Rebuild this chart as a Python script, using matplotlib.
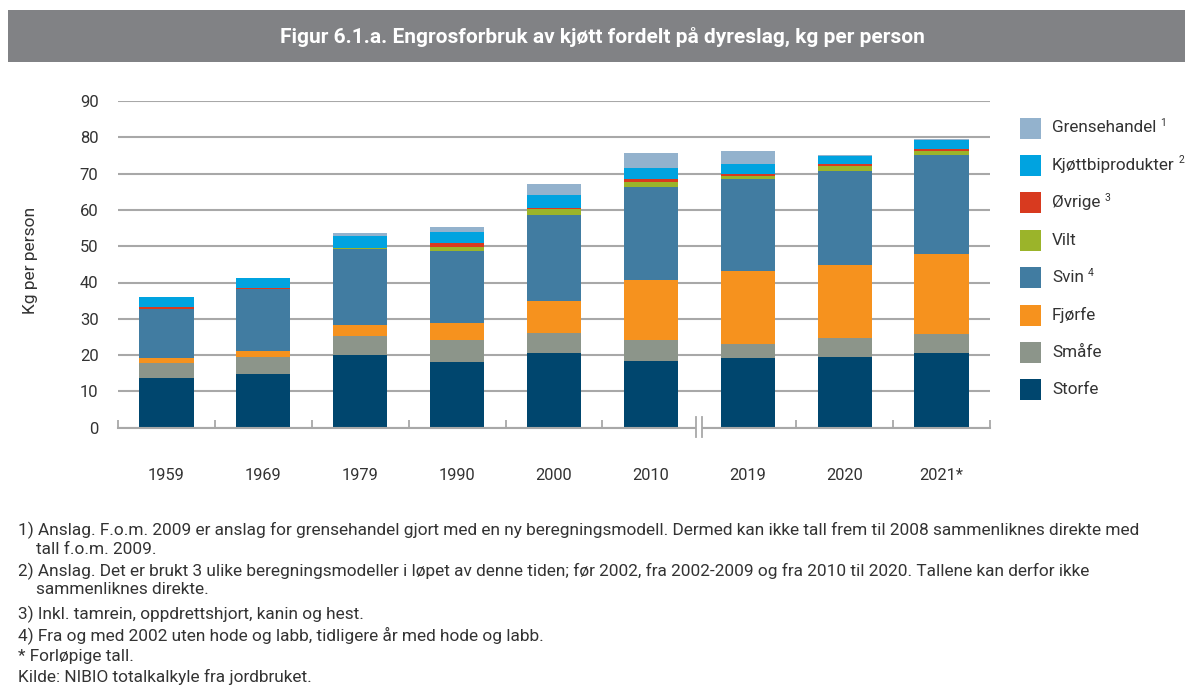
#!/usr/bin/env python3
"""Engrosforbruk av kjøtt fordelt på dyreslag, kg per person (figur 6.1.a)."""

import matplotlib

matplotlib.use("Agg")

import matplotlib.pyplot as plt
from matplotlib.patches import Rectangle

plt.rcParams["font.family"] = ["Roboto", "DejaVu Sans"]

YEARS = ["1959", "1969", "1979", "1990", "2000", "2010", "2019", "2020", "2021*"]

# stacked from the bottom up, kg per person
STORFE = [13.8, 14.9, 19.9, 18.0, 20.5, 18.5, 19.1, 19.6, 20.5]
SMAAFE = [4.1, 4.6, 5.3, 6.2, 5.7, 5.7, 4.0, 5.1, 5.2]
FJORFE = [1.2, 1.6, 3.0, 4.6, 8.8, 16.5, 20.1, 20.1, 22.2]
SVIN = [13.7, 17.0, 21.1, 20.0, 23.7, 25.7, 25.2, 25.8, 27.2]
VILT = [0.0, 0.0, 0.1, 0.9, 1.5, 1.4, 0.9, 1.4, 1.0]
OVRIGE = [0.5, 0.5, 0.1, 1.1, 0.2, 0.6, 0.6, 0.6, 0.7]
KJOTTBI = [2.7, 2.6, 3.2, 3.0, 3.6, 3.2, 2.7, 2.2, 2.5]
GRENSE = [0.0, 0.0, 0.9, 1.6, 3.1, 4.2, 3.6, 0.3, 0.3]

SERIES = [
    ("Storfe", "", STORFE, "#00466e"),
    ("Småfe", "", SMAAFE, "#8c958a"),
    ("Fjørfe", "", FJORFE, "#f6921e"),
    ("Svin", "4", SVIN, "#417ca1"),
    ("Vilt", "", VILT, "#9bb42a"),
    ("Øvrige", "3", OVRIGE, "#d83a1f"),
    ("Kjøttbiprodukter", "2", KJOTTBI, "#00a3e0"),
    ("Grensehandel", "1", GRENSE, "#93b2cd"),
]

TITLE = "Figur 6.1.a. Engrosforbruk av kjøtt fordelt på dyreslag, kg per person"

NOTES = [
    (18, 530, "1) Anslag. F.o.m. 2009 er anslag for grensehandel gjort med en ny beregningsmodell. Dermed kan ikke tall frem til 2008 sammenliknes direkte med"),
    (36, 549, "tall f.o.m. 2009."),
    (18, 571, "2) Anslag. Det er brukt 3 ulike beregningsmodeller i løpet av denne tiden; før 2002, fra 2002-2009 og fra 2010 til 2020. Tallene kan derfor ikke"),
    (36, 590, "sammenliknes direkte."),
    (18, 614, "3) Inkl. tamrein, oppdrettshjort, kanin og hest."),
    (18, 635, "4) Fra og med 2002 uten hode og labb, tidligere år med hode og labb."),
    (18, 656, "* Forløpige tall."),
    (18, 677, "Kilde: NIBIO totalkalkyle fra jordbruket."),
]

W, H = 1185, 685
TEXT = "#333333"
GRID = "#a8a8a8"

fig = plt.figure(figsize=(W / 100, H / 100), dpi=100)

# title band
fig.add_artist(Rectangle((8 / W, 1 - 62 / H), 1 - 8 / W, 52 / H, transform=fig.transFigure,
                         facecolor="#818285", edgecolor="none"))
fig.text(602 / W, 1 - 37 / H, TITLE, color="white", fontsize=15, fontweight="bold",
         ha="center", va="center")

ax = fig.add_axes([118 / W, 1 - 427.7 / H, 872 / W, 326.7 / H])
x = list(range(len(YEARS)))
bottom = [0.0] * len(YEARS)
for name, _, values, color in SERIES:
    ax.bar(x, values, width=0.56, bottom=bottom, color=color, edgecolor="none", zorder=3)
    bottom = [b + v for b, v in zip(bottom, values)]

ax.set_xlim(-0.5, len(YEARS) - 0.5)
ax.set_ylim(0, 90)
ax.set_yticks(range(0, 91, 10))
ax.set_xticks(x, YEARS)
ax.set_xticks([i - 0.5 for i in range(len(YEARS) + 1)], minor=True)
ax.tick_params(axis="x", which="major", length=0, pad=29, labelsize=11.8, labelcolor=TEXT)
ax.tick_params(axis="x", which="minor", direction="in", length=6, width=1.3, color=GRID)
ax.tick_params(axis="y", length=0, pad=14, labelsize=12, labelcolor=TEXT)
ax.grid(axis="y", color=GRID, linewidth=1.5, zorder=0)
for side in ("top", "right", "left"):
    ax.spines[side].set_visible(False)
ax.spines["bottom"].set_color(GRID)
ax.spines["bottom"].set_linewidth(1.5)
ax.spines["bottom"].set_zorder(4)

# axis break between 2010 and 2019
ax.add_patch(Rectangle((5.47, -2.5), 0.06, 5.5, facecolor="white", edgecolor="none",
                       clip_on=False, zorder=5))
for bx in (5.47, 5.53):
    ax.plot([bx, bx], [-2.5, 3.0], color=GRID, linewidth=1.3, clip_on=False, zorder=6)

fig.text(30 / W, 1 - 260 / H, "Kg per person", rotation=90, ha="center", va="center",
         fontsize=12.5, color=TEXT)

# legend, top to bottom
for i, (name, sup, _, color) in enumerate(reversed(SERIES)):
    yc = 128 + i * 37.4
    fig.add_artist(Rectangle((1020 / W, 1 - (yc + 10.5) / H), 21 / W, 21 / H,
                             transform=fig.transFigure, facecolor=color, edgecolor="none"))
    t = fig.text(1052 / W, 1 - yc / H, name, ha="left", va="center", fontsize=12.3, color=TEXT)
    if sup:
        fig.canvas.draw()
        bb = t.get_window_extent()
        fig.text((bb.x1 + 4) / W, 1 - (yc - 5) / H, sup, ha="left", va="center",
                 fontsize=7.5, color=TEXT)

for nx, ny, line in NOTES:
    fig.text(nx / W, 1 - ny / H, line, ha="left", va="center", fontsize=12.4, color=TEXT)

fig.savefig("out.png", dpi=100)
